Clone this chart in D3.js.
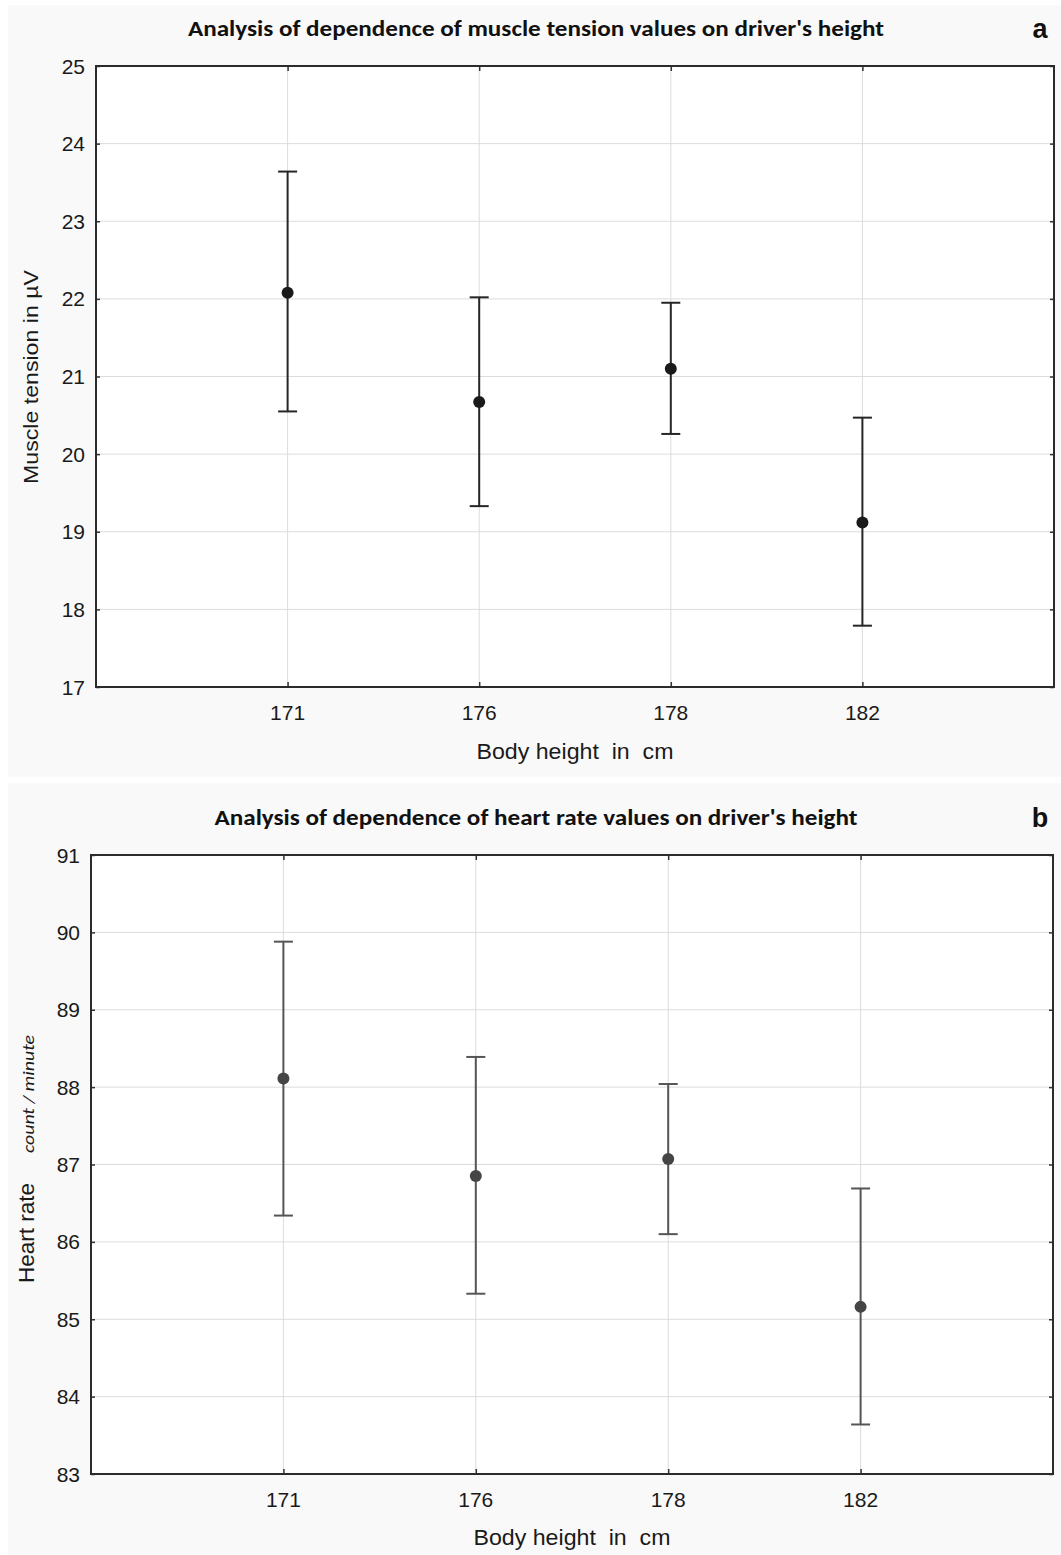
<!DOCTYPE html>
<html>
<head>
<meta charset="utf-8">
<script src="https://cdn.jsdelivr.net/npm/d3@7"></script>
<style>
  html, body { margin: 0; padding: 0; background: #ffffff; }
  svg { display: block; }
</style>
</head>
<body>
<svg id="chart" width="1061" height="1555"></svg>
<script>
// ---- data ----
const heights = ["171", "176", "178", "182"];

const tensionMean  = [22.08, 20.67, 21.10, 19.12];
const tensionUpper = [23.64, 22.02, 21.95, 20.47];
const tensionLower = [20.55, 19.33, 20.26, 17.79];
const tensionTicks = [17, 18, 19, 20, 21, 22, 23, 24, 25];

const heartMean  = [88.11, 86.85, 87.07, 85.16];
const heartUpper = [89.88, 88.39, 88.04, 86.69];
const heartLower = [86.34, 85.33, 86.10, 83.64];
const heartTicks = [83, 84, 85, 86, 87, 88, 89, 90, 91];

const titleA = "Analysis of dependence of muscle tension values on driver's height";
const titleB = "Analysis of dependence of heart rate values on driver's height";
const xLabel = "Body height\u00a0 in\u00a0 cm";

const svg = d3.select("#chart");
const titleFont = "Carlito, Calibri, 'Open Sans', 'Liberation Sans', sans-serif";
const axisFont = "Arial, 'Liberation Sans', Helvetica, sans-serif";

function panel(cfg) {
  const g = svg.append("g");
  // panel background
  g.append("rect").attr("x", cfg.bg[0]).attr("y", cfg.bg[1])
    .attr("width", cfg.bg[2]).attr("height", cfg.bg[3]).attr("fill", "#f9f9f9");

  const x = d3.scalePoint().domain(heights).range([cfg.left, cfg.right]).padding(1);
  const y = d3.scaleLinear().domain(d3.extent(cfg.ticks)).range([cfg.bottom, cfg.top]);

  // plot area
  g.append("rect").attr("x", cfg.left).attr("y", cfg.top)
    .attr("width", cfg.right - cfg.left).attr("height", cfg.bottom - cfg.top)
    .attr("fill", "#ffffff");

  // gridlines
  g.append("g").selectAll("line").data(cfg.ticks.slice(1, -1)).join("line")
    .attr("x1", cfg.left).attr("x2", cfg.right)
    .attr("y1", d => y(d)).attr("y2", d => y(d))
    .attr("stroke", "#dcdcdc").attr("stroke-width", 1);
  g.append("g").selectAll("line").data(heights).join("line")
    .attr("x1", d => x(d)).attr("x2", d => x(d))
    .attr("y1", cfg.top).attr("y2", cfg.bottom)
    .attr("stroke", "#dcdcdc").attr("stroke-width", 1);

  // axes (ticks inward)
  const axL = g.append("g").attr("transform", `translate(${cfg.left},0)`)
    .call(d3.axisRight(y).tickValues(cfg.ticks).tickSize(4).tickFormat(""));
  const axR = g.append("g").attr("transform", `translate(${cfg.right},0)`)
    .call(d3.axisLeft(y).tickValues(cfg.ticks).tickSize(4).tickFormat(""));
  const axB = g.append("g").attr("transform", `translate(0,${cfg.bottom})`)
    .call(d3.axisTop(x).tickSize(5).tickFormat(""));
  const axT = g.append("g").attr("transform", `translate(0,${cfg.top})`)
    .call(d3.axisBottom(x).tickSize(5).tickFormat(""));
  [axL, axR, axB, axT].forEach(a => {
    a.select(".domain").remove();
    a.selectAll(".tick line").attr("stroke", "#333").attr("stroke-width", 1.5);
  });

  // frame
  g.append("rect").attr("x", cfg.left).attr("y", cfg.top)
    .attr("width", cfg.right - cfg.left).attr("height", cfg.bottom - cfg.top)
    .attr("fill", "none").attr("stroke", "#2b2b2b").attr("stroke-width", 2);

  // y tick labels
  g.append("g").selectAll("text").data(cfg.ticks).join("text")
    .attr("x", cfg.left - 11).attr("y", d => y(d)).attr("dy", "0.36em")
    .attr("text-anchor", "end").attr("font-family", axisFont)
    .attr("font-size", 21).attr("fill", "#1a1a1a").text(d => d);

  // x tick labels
  g.append("g").selectAll("text").data(heights).join("text")
    .attr("x", d => x(d)).attr("y", cfg.bottom + 33)
    .attr("text-anchor", "middle").attr("font-family", axisFont)
    .attr("font-size", 21).attr("fill", "#1a1a1a").text(d => d);

  // x axis label
  g.append("text").attr("x", (cfg.left + cfg.right) / 2 + 0).attr("y", cfg.xLabelY)
    .attr("text-anchor", "middle").attr("font-family", axisFont)
    .attr("font-size", 22).attr("fill", "#1a1a1a")
    .attr("textLength", 197).attr("lengthAdjust", "spacingAndGlyphs")
    .text(xLabel);

  // title
  g.append("text").attr("x", 536).attr("y", cfg.titleY)
    .attr("text-anchor", "middle").attr("font-family", titleFont)
    .attr("font-weight", "bold").attr("font-size", 22).attr("fill", "#111")
    .attr("textLength", cfg.titleLen).attr("lengthAdjust", "spacingAndGlyphs")
    .text(cfg.title);

  // panel letter
  g.append("text").attr("x", 1040).attr("y", cfg.titleY + 2)
    .attr("text-anchor", "middle").attr("font-family", axisFont)
    .attr("font-weight", "bold").attr("font-size", 27).attr("fill", "#111")
    .text(cfg.letter);

  // error bars
  const eb = g.append("g");
  heights.forEach((h, i) => {
    const cx = x(h);
    eb.append("line").attr("x1", cx).attr("x2", cx)
      .attr("y1", y(cfg.upper[i])).attr("y2", y(cfg.lower[i]))
      .attr("stroke", cfg.lineColor).attr("stroke-width", 2);
    [cfg.upper[i], cfg.lower[i]].forEach(v => {
      eb.append("line").attr("x1", cx - 9.5).attr("x2", cx + 9.5)
        .attr("y1", y(v)).attr("y2", y(v))
        .attr("stroke", cfg.lineColor).attr("stroke-width", 2);
    });
    eb.append("circle").attr("cx", cx).attr("cy", y(cfg.mean[i])).attr("r", 6)
      .attr("fill", cfg.dotColor);
  });
  return { g, x, y };
}

// Panel a
const pa = panel({
  bg: [8, 5, 1053, 772],
  left: 96, right: 1054, top: 66, bottom: 687,
  ticks: tensionTicks, mean: tensionMean, upper: tensionUpper, lower: tensionLower,
  title: titleA, titleLen: 696, titleY: 36, letter: "a", xLabelY: 759,
  lineColor: "#262626", dotColor: "#1a1a1a"
});
pa.g.append("text")
  .attr("transform", "translate(38,377) rotate(-90)")
  .attr("text-anchor", "middle").attr("font-family", axisFont)
  .attr("font-size", 21).attr("fill", "#1a1a1a")
  .attr("textLength", 214).attr("lengthAdjust", "spacingAndGlyphs")
  .text("Muscle tension in \u00b5V");

// Panel b
const pb = panel({
  bg: [8, 783, 1053, 772],
  left: 91, right: 1053, top: 855, bottom: 1474,
  ticks: heartTicks, mean: heartMean, upper: heartUpper, lower: heartLower,
  title: titleB, titleLen: 643, titleY: 825, letter: "b", xLabelY: 1545,
  lineColor: "#555555", dotColor: "#454545"
});
pb.g.append("text")
  .attr("transform", "translate(34,1283) rotate(-90)")
  .attr("text-anchor", "start").attr("font-family", axisFont)
  .attr("font-size", 22).attr("fill", "#1a1a1a")
  .attr("textLength", 100).attr("lengthAdjust", "spacingAndGlyphs")
  .text("Heart rate");
pb.g.append("text")
  .attr("transform", "translate(34,1153) rotate(-90)")
  .attr("text-anchor", "start").attr("font-family", titleFont)
  .attr("font-style", "italic").attr("font-size", 16).attr("fill", "#1a1a1a")
  .attr("textLength", 118).attr("lengthAdjust", "spacingAndGlyphs")
  .text("count / minute");
</script>
</body>
</html>
